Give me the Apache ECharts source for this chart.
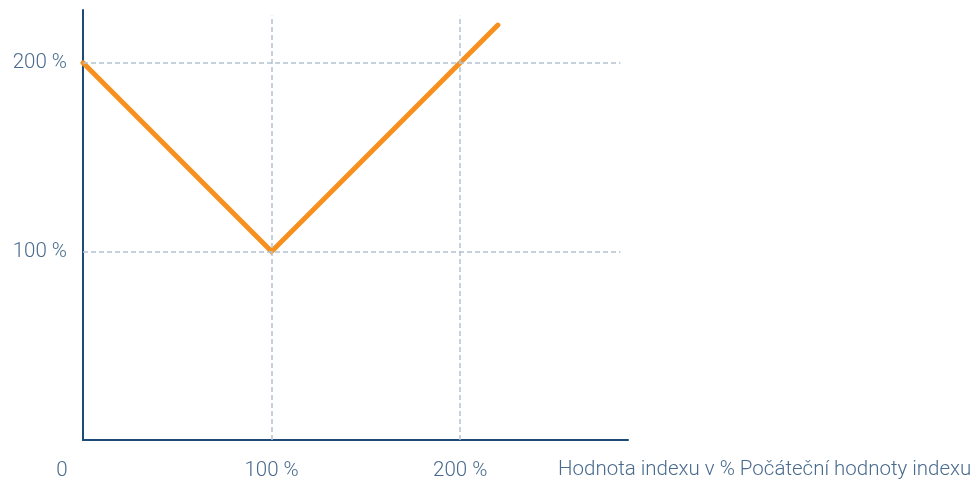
<!DOCTYPE html>
<html><head><meta charset="utf-8">
<script src="https://cdn.jsdelivr.net/npm/echarts@6/dist/echarts.min.js"></script>
<style>html,body{margin:0;padding:0;background:#fff}#c{width:974px;height:481px}</style>
</head><body><div id="c"></div>
<script>
const xTicks = [0, 100, 200];
const yTicks = [100, 200];
const lineX = [0, 100, 220];
const lineY = [200, 100, 220];
const xAxisName = 'Hodnota indexu v % Počáteční hodnoty indexu';

const textColor = '#4a6b8e';
const font = 'Roboto';
const fs = 20.5;
const chart = echarts.init(document.getElementById('c'));
const gridMarks = [];
xTicks.filter(v => v > 0).forEach(v => gridMarks.push([{coord: [v, 0]}, {coord: [v, 225]}]));
yTicks.forEach(v => gridMarks.push([{coord: [0, v]}, {coord: [285, v]}]));

chart.setOption({
  animation: false,
  grid: {left: 83, right: 346, top: 10, bottom: 41, containLabel: false, outerBoundsMode: 'none'},
  xAxis: {
    type: 'value', min: 0, max: 289, interval: 100,
    axisLine: {show: true, lineStyle: {color: '#1d4a78', width: 2}},
    axisTick: {show: false}, splitLine: {show: false},
    axisLabel: {
      margin: 20, showMaxLabel: false, color: textColor, fontFamily: font, fontWeight: 300, fontSize: fs,
      formatter: v => v === 0 ? '{z|0}' : v + ' %',
      rich: {z: {color: textColor, fontFamily: font, fontWeight: 300, fontSize: fs, padding: [0, 42, 0, 0]}}
    },
    name: xAxisName, nameLocation: 'end', nameGap: -70,
    nameTextStyle: {color: textColor, fontFamily: font, fontWeight: 300, fontSize: fs, align: 'left', verticalAlign: 'top', lineHeight: 60}
  },
  yAxis: {
    type: 'value', min: 0, max: 228, interval: 100,
    axisLine: {show: true, lineStyle: {color: '#1d4a78', width: 2}},
    axisTick: {show: false}, splitLine: {show: false},
    axisLabel: {
      margin: 16, showMaxLabel: false, color: textColor, fontFamily: font, fontWeight: 300, fontSize: fs,
      formatter: v => v === 0 ? '' : v + ' %'
    }
  },
  series: [
    {
      type: 'line', data: [], z: 1, silent: true,
      markLine: {
        silent: true, symbol: 'none', label: {show: false},
        lineStyle: {color: '#b3c3d3', width: 1.5, type: [5, 3]},
        data: gridMarks
      }
    },
    {
      type: 'line', z: 3, symbol: 'none',
      data: lineX.map((x, i) => [x, lineY[i]]),
      lineStyle: {color: '#f7901e', width: 5, cap: 'round', join: 'miter'}
    }
  ]
});
</script></body></html>
